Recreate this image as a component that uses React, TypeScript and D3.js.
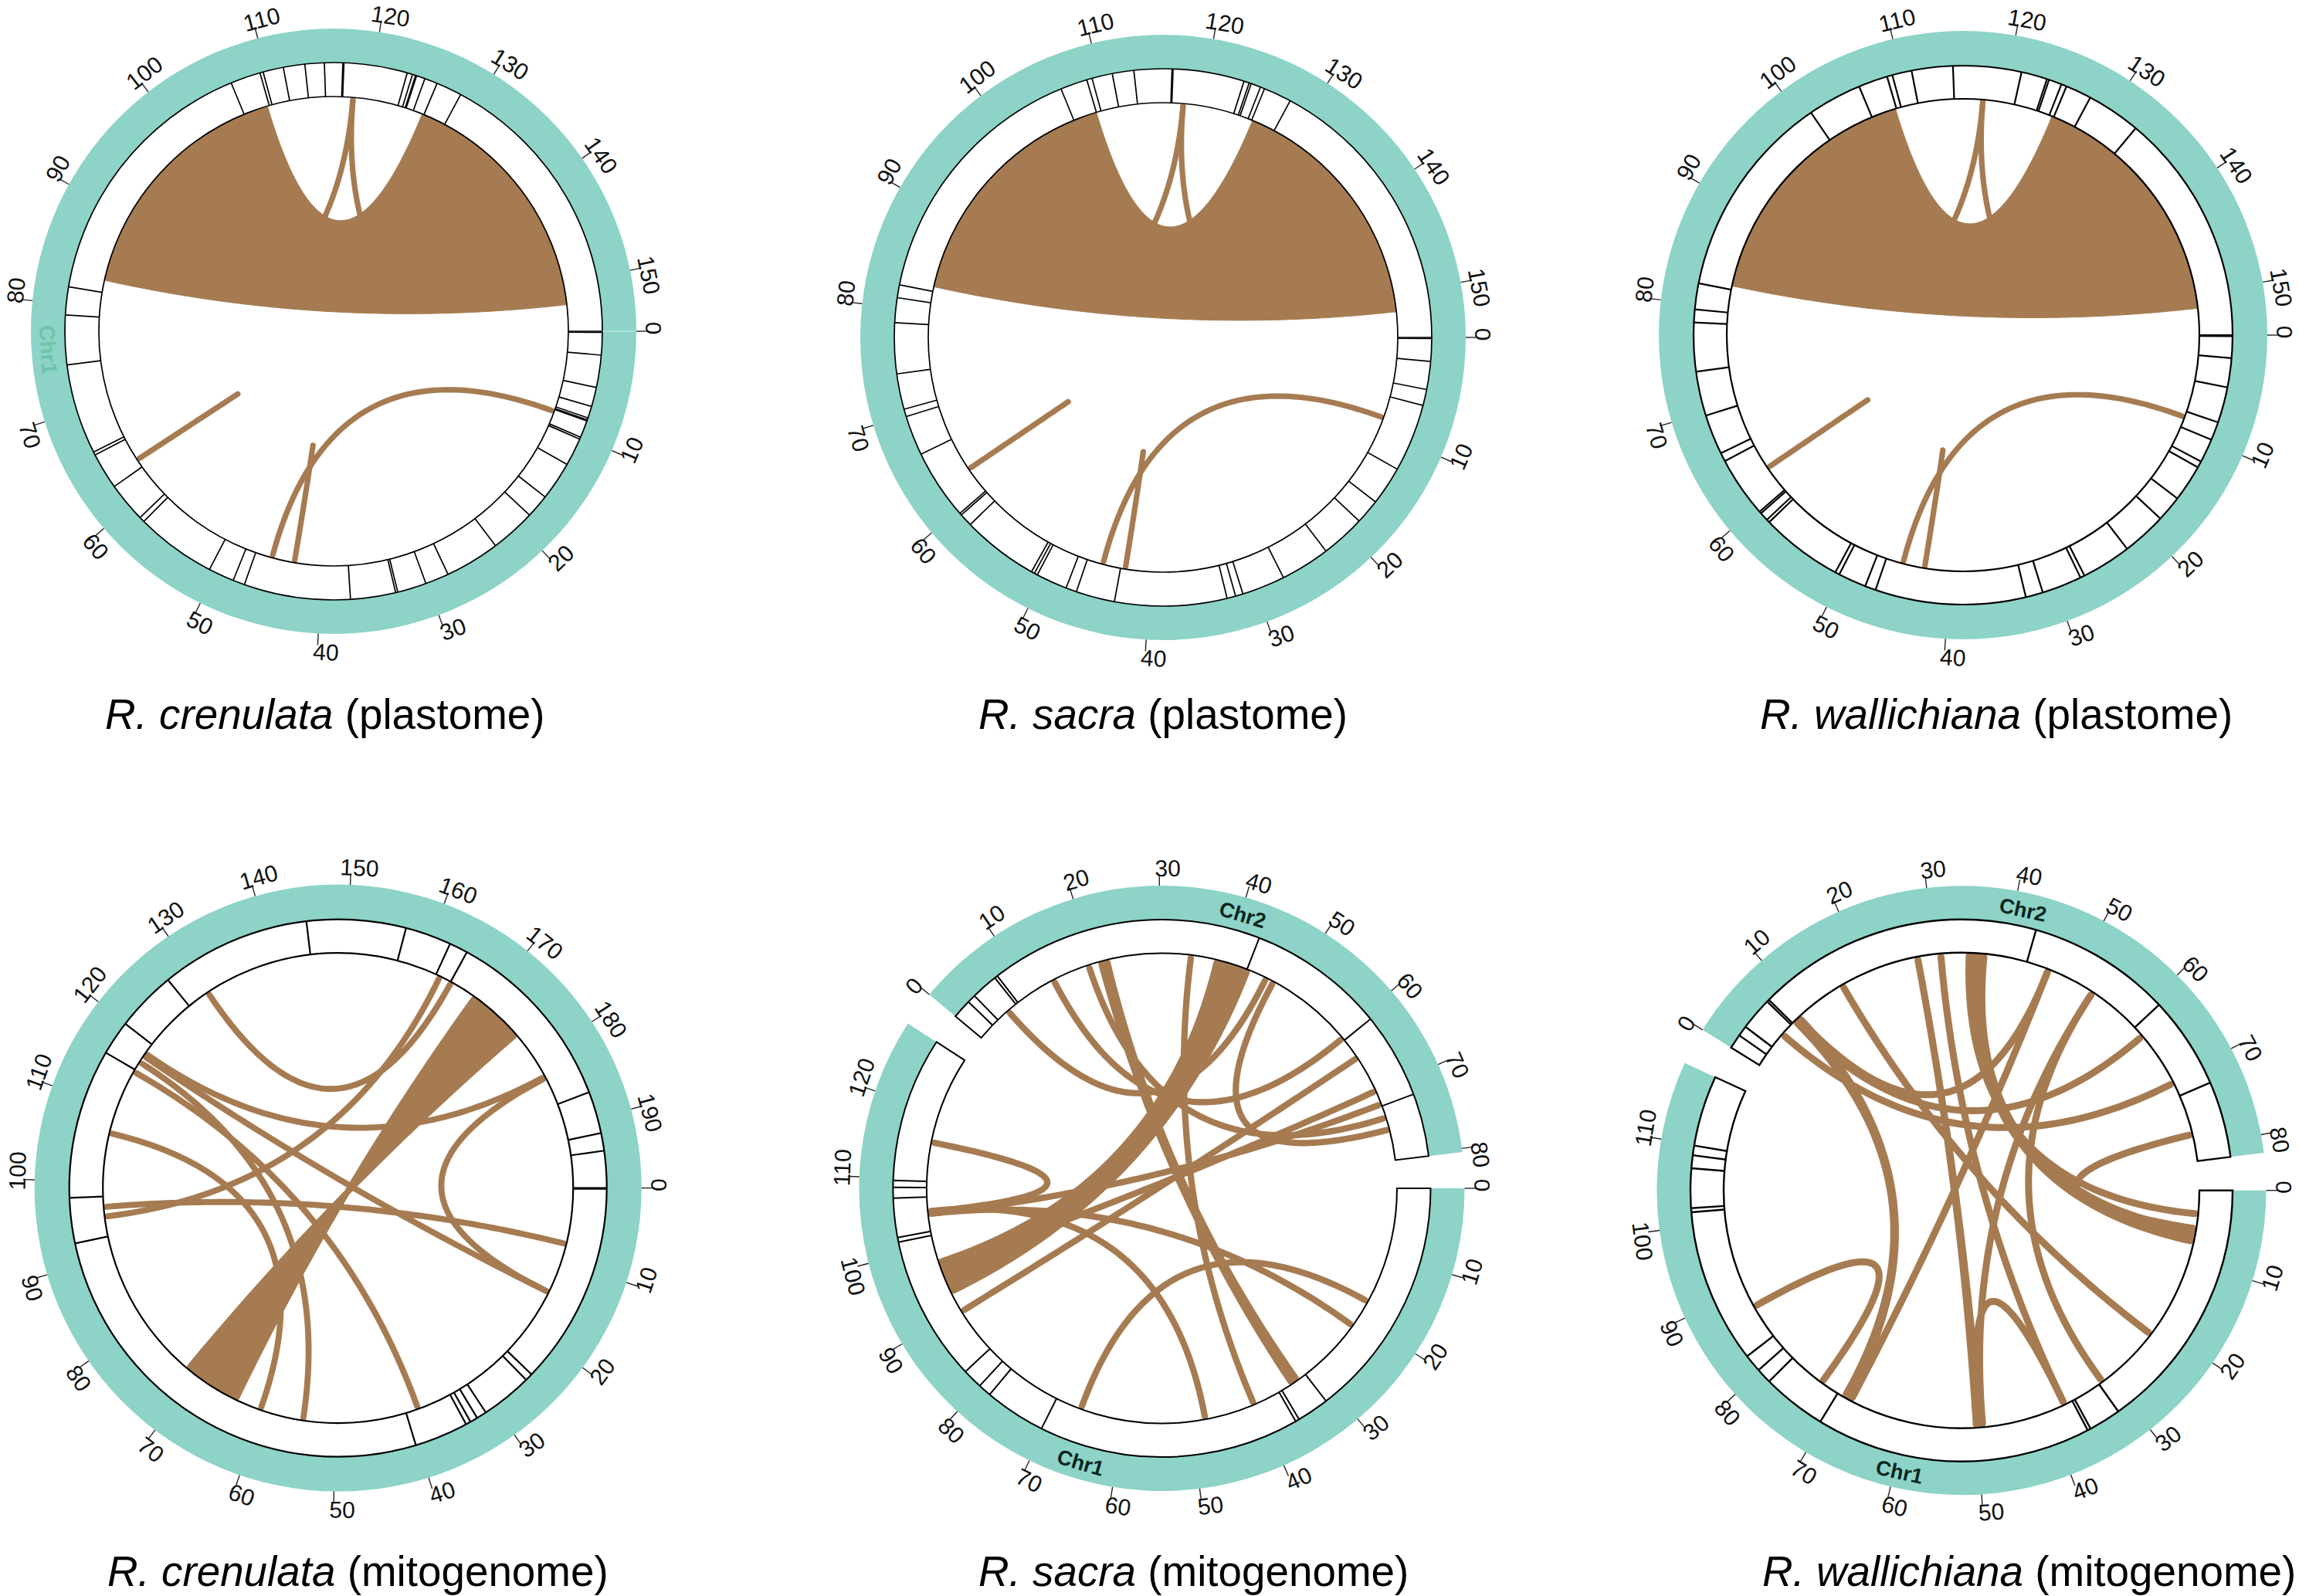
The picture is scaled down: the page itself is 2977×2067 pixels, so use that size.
import React from "react";
import * as d3 from "d3";

// ---------- data (positions in kb) ----------
type End = [number, number, number, number, number, number];

const plastomeTicks = d3.range(0, 151, 10);

// R. crenulata plastome
const crenPlastomeLen = [155];
const crenPlastomeGenes = [[0, 0.1, 2.2, 5.2, 7.0, 8.1, 8.3, 8.4, 10.0, 10.2, 12.8, 16.4, 18.6, 22.8, 27.9, 30.1, 32.8, 33.0, 37.2, 47.1, 48.2, 50.6, 58.1, 58.6, 62.3, 65.7, 66.0, 74.4, 79.0, 81.6, 106.6, 109.4, 109.7, 111.6, 113.6, 115.4, 117.1, 117.2, 123.1, 123.6, 123.9, 124.0, 124.8, 126.0, 128.4]];
const crenPlastomeBands: End[] = [[0, 82.9, 109.2, 0, 125.8, 152.2]];
const crenPlastomeLinks: End[] = [[0, 8.6, 8.6, 0, 45.3, 45.3]];
const crenPlastomeStubs = [[118.3, 73, 0.3], [118.3, 8.6, 0.3], [63.2, 140.7, 0.253], [42.9, 118.3, 0.25]];

// R. sacra plastome
const sacraPlastomeLen = [154.5];
const sacraPlastomeGenes = [[0, 0.1, 2.2, 4.8, 6.3, 12.6, 16.2, 18.5, 22.6, 27.2, 31.2, 31.9, 32.7, 43.1, 46.7, 47.7, 50.6, 50.9, 51.2, 58.3, 59.5, 59.7, 66.2, 69.9, 70.6, 73.9, 78.6, 80.9, 82.1, 106.3, 108.8, 109.3, 111.2, 113.2, 116.7, 116.8, 123.4, 123.9, 124.1, 125.0, 125.4, 128.0]];
const sacraPlastomeBands: End[] = [[0, 82.6, 108.8, 0, 125.5, 151.8]];
const sacraPlastomeLinks: End[] = [[0, 8.6, 8.6, 0, 45, 45]];
const sacraPlastomeStubs = [[118, 73, 0.3], [118, 8.6, 0.3], [62.6, 139.9, 0.253], [42.6, 118, 0.25]];

// R. wallichiana plastome
const wallPlastomeLen = [154.3];
const wallPlastomeGenes = [[0, 0.1, 2.1, 4.8, 8.1, 9.8, 12.0, 12.6, 16.0, 18.4, 22.5, 27.1, 27.5, 31.2, 32.8, 46.7, 47.7, 50.3, 50.7, 58.3, 58.6, 59.4, 59.6, 65.2, 66.0, 69.7, 73.8, 78.3, 79.5, 81.9, 101.0, 106.0, 108.7, 109.2, 111.0, 114.8, 121.1, 123.5, 123.7, 124.9, 125.4, 127.8, 132.8]];
const wallPlastomeBands: End[] = [[0, 82.3, 108.6, 0, 125.2, 151.5]];
const wallPlastomeLinks: End[] = [[0, 8.7, 8.7, 0, 44.9, 44.9]];
const wallPlastomeStubs = [[117.8, 73, 0.3], [117.8, 8.7, 0.3], [62.5, 139.7, 0.253], [42.6, 117.8, 0.25]];

// R. crenulata mitogenome
const crenMitoLen = [198.3];
const crenMitoGenes = [[0, 0.1, 24.2, 25.1, 31.2, 32.4, 33.3, 33.9, 40.3, 92.6, 98.0, 115.8, 119.9, 127.1, 145.0, 156.8, 162.3, 164.5, 186.8, 191.8, 193.9]];
const crenMitoLinks: End[] = [
  [0, 130.2, 130.2, 0, 164.6, 164.6],
  [0, 162.9, 162.9, 0, 95.3, 95.3],
  [0, 63.8, 71.4, 0, 175.8, 168.4],
  [0, 182.9, 182.9, 0, 14.5, 14.5],
  [0, 182.7, 182.7, 0, 118.4, 118.4],
  [0, 14.5, 14.5, 0, 118.0, 118.0],
  [0, 7.6, 7.6, 0, 96.6, 96.6],
  [0, 38.6, 38.6, 0, 115.5, 115.5],
  [0, 54.3, 54.3, 0, 117.0, 117.0],
  [0, 60.2, 60.2, 0, 106.6, 106.6],
];

// R. sacra mitogenome (chr 0 = Chr1, chr 1 = Chr2)
const sacraMitoLen = [128.6, 80.4];
const sacraMitoGenes = [
  [31.6, 35.8, 36.3, 70.4, 78.4, 80.1, 82.7, 101.7, 102.3, 107.4, 108.8, 109.7],
  [2.5, 3.6, 7.1, 7.5, 43.1, 61.0, 72.2],
];
const sacraMitoLinks: End[] = [
  [0, 115.5, 115.5, 0, 105.2, 105.2],
  [0, 92.9, 97.6, 1, 38.5, 43.2],
  [0, 89.6, 89.6, 1, 64.2, 64.2],
  [0, 104.9, 104.9, 0, 21.6, 21.6],
  [0, 105.3, 105.3, 0, 47.9, 47.9],
  [0, 66.5, 66.5, 0, 17.4, 17.4],
  [0, 33.1, 34.0, 1, 21.2, 22.1],
  [0, 40.4, 40.4, 1, 34.6, 34.6],
  [1, 19.3, 19.3, 1, 74, 74],
  [1, 5.6, 5.6, 1, 46.2, 46.2],
  [1, 60.6, 60.6, 1, 13.7, 13.7],
  [1, 47.4, 47.4, 1, 75.8, 75.8],
  [1, 69.8, 69.8, 0, 97, 97],
  [1, 71.9, 71.9, 0, 104.9, 104.9],
];

// R. wallichiana mitogenome
const wallMitoLen = [118.7, 82];
const wallMitoGenes = [
  [31.7, 35.7, 36.1, 70.4, 78.4, 80.3, 82.5, 101.7, 102.2, 107.1, 108.7, 109.9],
  [1.8, 3.1, 7.2, 7.5, 43.1, 61.0, 72.5],
];
const wallMitoLinks: End[] = [
  [0, 87.4, 87.4, 0, 73.1, 73.1],
  [0, 68.8, 69.3, 1, 8.0, 8.7],
  [0, 68.3, 68.3, 1, 46.3, 46.3],
  [0, 49.6, 50.1, 1, 27.6, 27.6],
  [0, 49.2, 49.2, 1, 53.3, 53.3],
  [0, 37.3, 37.3, 0, 49.8, 49.8],
  [1, 5.4, 5.4, 1, 70.5, 70.5],
  [1, 8.0, 8.0, 1, 62.6, 62.6],
  [1, 16.3, 16.3, 0, 21.6, 21.6],
  [1, 30.9, 30.9, 0, 37.3, 37.3],
  [1, 35.6, 37.0, 0, 5.7, 7.2],
  [1, 34.9, 34.9, 0, 3.3, 3.3],
  [0, 31.1, 31.1, 1, 53.3, 53.3],
  [1, 46.3, 46.3, 1, 8.6, 8.6],
  [1, 78.2, 78.2, 0, 5.4, 5.4],
];

const titles = [
  ["R. crenulata", " (plastome)"],
  ["R. sacra", " (plastome)"],
  ["R. wallichiana", " (plastome)"],
  ["R. crenulata", " (mitogenome)"],
  ["R. sacra", " (mitogenome)"],
  ["R. wallichiana", " (mitogenome)"],
];

// ---------- layout ----------
const TEAL = "#8DD3C7";
const BROWN = "#A67B51";
const FONT = "'Liberation Sans', Arial, sans-serif";

type Panel = {
  cx: number; cy: number; R: number; rt: number; ri: number; lw: number; linkW: number;
  lens: number[]; ranges: [number, number][]; ticks: number[][];
  genes: number[][]; links: End[]; bands?: End[]; stubs?: number[][];
  chrLabels?: { chr: number; kb: number; text: string; color: string; weight: number }[];
  title: number; tx: number; ty: number;
};

const panels: Panel[] = [
  { cx: 432, cy: 429, R: 392, rt: 348, ri: 304, lw: 1.7, linkW: 7.2, lens: crenPlastomeLen, ranges: [[0, 360]], ticks: [plastomeTicks], genes: crenPlastomeGenes, links: crenPlastomeLinks, bands: crenPlastomeBands, stubs: crenPlastomeStubs,
    chrLabels: [{ chr: 0, kb: 75.9, text: "Chr1", color: "#6CC4A6", weight: 700 }], title: 0, tx: 136, ty: 944 },
  { cx: 1506, cy: 437, R: 392, rt: 348, ri: 304, lw: 1.7, linkW: 7.2, lens: sacraPlastomeLen, ranges: [[0, 360]], ticks: [plastomeTicks], genes: sacraPlastomeGenes, links: sacraPlastomeLinks, bands: sacraPlastomeBands, stubs: sacraPlastomeStubs, title: 1, tx: 1267, ty: 944 },
  { cx: 2542, cy: 434, R: 394, rt: 349, ri: 306, lw: 2.2, linkW: 7.2, lens: wallPlastomeLen, ranges: [[0, 360]], ticks: [plastomeTicks], genes: wallPlastomeGenes, links: wallPlastomeLinks, bands: wallPlastomeBands, stubs: wallPlastomeStubs, title: 2, tx: 2279, ty: 944 },
  { cx: 437.7, cy: 1538.6, R: 393, rt: 348, ri: 304.5, lw: 2.2, linkW: 7.8, lens: crenMitoLen, ranges: [[0, 360]], ticks: [d3.range(0, 191, 10)], genes: crenMitoGenes, links: crenMitoLinks, title: 3, tx: 139, ty: 2054 },
  { cx: 1504.5, cy: 1539, R: 392, rt: 348, ri: 304.5, lw: 2, linkW: 8.2, lens: sacraMitoLen, ranges: [[0, 213], [219.8, 353.1]], ticks: [d3.range(0, 121, 10), d3.range(0, 81, 10)], genes: sacraMitoGenes, links: sacraMitoLinks,
    chrLabels: [{ chr: 0, kb: 64.3, text: "Chr1", color: "#06251f", weight: 700 }, { chr: 1, kb: 40.2, text: "Chr2", color: "#06251f", weight: 700 }], title: 4, tx: 1267, ty: 2054 },
  { cx: 2540, cy: 1541.7, R: 394.5, rt: 351, ri: 308, lw: 2.4, linkW: 9, lens: wallMitoLen, ranges: [[0, 204.7], [211.8, 352.9]], ticks: [d3.range(0, 111, 10), d3.range(0, 81, 10)], genes: wallMitoGenes, links: wallMitoLinks,
    chrLabels: [{ chr: 0, kb: 59.4, text: "Chr1", color: "#06251f", weight: 700 }, { chr: 1, kb: 41, text: "Chr2", color: "#06251f", weight: 700 }], title: 5, tx: 2282, ty: 2054 },
];

const rad = (deg: number) => (deg * Math.PI) / 180;
const polar = (deg: number, r: number): [number, number] => [r * Math.cos(rad(deg)), r * Math.sin(rad(deg))];
const line = d3.line();
const ringArc = d3.arc();
const arcPath = (r0: number, r1: number, a: number, b: number) =>
  ringArc({ innerRadius: r0, outerRadius: r1, startAngle: rad(a + 90), endAngle: rad(b + 90) }) as string;

// circos-style link edge: quadratic Bezier whose control point is the circle centre
const edge = (p: [number, number], q: [number, number], t0 = 0, t1 = 1, n = 70): [number, number][] =>
  d3.range(n + 1).map((i) => {
    const t = t0 + ((t1 - t0) * i) / n;
    const u = (1 - t) * (1 - t), v = t * t;
    return [u * p[0] + v * q[0], u * p[1] + v * q[1]] as [number, number];
  });
const along = (a: number, b: number, r: number, n = 24): [number, number][] =>
  d3.range(n + 1).map((i) => polar(a + ((b - a) * i) / n, r));

const ribbon = (e: End, f: (c: number, kb: number) => number, r: number) => {
  const a0 = f(e[0], e[1]), a1 = f(e[0], e[2]), b0 = f(e[3], e[4]), b1 = f(e[3], e[5]);
  const pts = [
    ...along(a0, a1, r),
    ...edge(polar(a1, r), polar(b0, r)),
    ...along(b0, b1, r),
    ...edge(polar(b1, r), polar(a0, r)),
  ];
  return (line(pts) as string) + "Z";
};

function Circos({ p }: { p: Panel }) {
  const scales = p.lens.map((len, i) => d3.scaleLinear().domain([0, len]).range(p.ranges[i]));
  const f = (c: number, kb: number) => scales[c](kb);
  const LINK_W = p.linkW;
  const rl = p.ri - LINK_W / 2;
  return (
    <g transform={`translate(${p.cx},${p.cy})`}>
      {p.ranges.map((r, i) => (
        <path key={"t" + i} d={arcPath(p.rt, p.R, r[0], r[1])} fill={TEAL} />
      ))}
      {(p.bands || []).map((b, i) => (
        <path key={"b" + i} d={ribbon(b, f, p.ri)} fill={BROWN} stroke={BROWN} strokeWidth={1} />
      ))}
      {p.links.map((l, i) => (
        <path key={"l" + i} d={ribbon(l, f, rl)} fill={BROWN} stroke={BROWN} strokeWidth={LINK_W} strokeLinejoin="round" />
      ))}
      {(p.stubs || []).map((s, i) => (
        <path key={"s" + i} d={line(edge(polar(f(0, s[0]), rl), polar(f(0, s[1]), rl), 0, s[2])) as string} fill="none" stroke={BROWN} strokeWidth={LINK_W} strokeLinecap="round" />
      ))}
      {p.ranges.map((r, i) => (
        <path key={"o" + i} d={arcPath(p.ri, p.rt, r[0], r[1])} fill="none" stroke="#000" strokeWidth={p.lw} />
      ))}
      {p.genes.map((g, c) =>
        g.map((kb, i) => {
          const a = polar(f(c, kb), p.ri), b = polar(f(c, kb), p.rt);
          return <line key={c + "g" + i} x1={a[0]} y1={a[1]} x2={b[0]} y2={b[1]} stroke="#000" strokeWidth={p.lw} />;
        })
      )}
      {p.ticks.map((tk, c) =>
        tk.map((kb) => {
          const th = f(c, kb);
          const a = polar(th, p.R), b = polar(th, p.R + 15), t = polar(th, p.R + 23);
          const norm = ((th % 360) + 360) % 360;
          const rot = norm > 0.5 && norm < 180 ? norm - 90 : norm + 90;
          return (
            <g key={c + "k" + kb}>
              <line x1={a[0]} y1={a[1]} x2={b[0]} y2={b[1]} stroke="#222" strokeWidth={1.4} />
              <text transform={`translate(${t[0]},${t[1]}) rotate(${rot})`} x={kb === 0 ? -4 : 11} y={11} textAnchor="middle" fontFamily={FONT} fontSize={30} fill="#111">{kb}</text>
            </g>
          );
        })
      )}
      {(p.chrLabels || []).map((l, i) => {
        const th = f(l.chr, l.kb);
        const t = polar(th, (p.R + p.rt) / 2);
        const rot = th < 180 ? th - 90 : th + 90;
        const teal = l.color === "#6CC4A6";
        return (
          <text key={"c" + i} transform={`translate(${t[0]},${t[1]}) rotate(${rot})`} y={10} textAnchor="middle" fontFamily={FONT} fontSize={teal ? 28 : 27} fontWeight={l.weight} fill={l.color}>{l.text}</text>
        );
      })}
      {p.title === 0 ? <line x1={p.rt} y1={0} x2={p.R} y2={0} stroke="#C8EAE4" strokeWidth={1} /> : null}
    </g>
  );
}

export default function App() {
  return (
    <svg width={2977} height={2067} viewBox="0 0 2977 2067" style={{ position: "absolute", left: 0, top: 0, background: "#fff" }}>
      {panels.map((p, i) => (
        <g key={i}>
          <Circos p={p} />
          <text x={p.tx} y={p.ty} fontFamily={FONT} fontSize={54.8} fill="#000">
            <tspan fontStyle="italic">{titles[p.title][0]}</tspan>
            <tspan>{titles[p.title][1]}</tspan>
          </text>
        </g>
      ))}
    </svg>
  );
}
